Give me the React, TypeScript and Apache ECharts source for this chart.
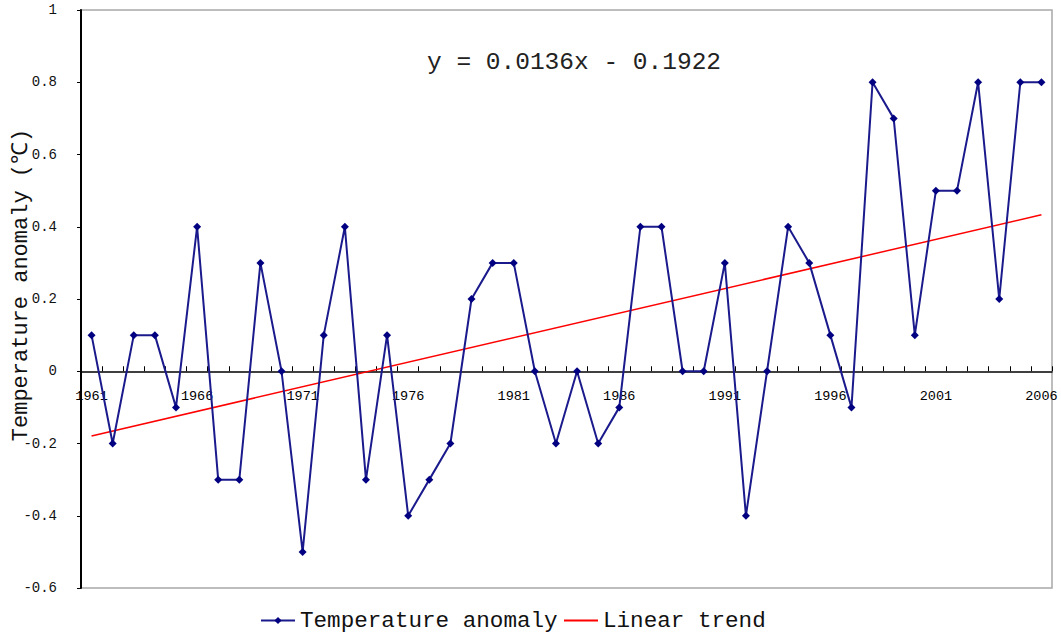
import React, { useEffect, useRef } from "react";
import * as echarts from "echarts";

const years: string[] = [
  "1961","1962","1963","1964","1965","1966","1967","1968","1969","1970",
  "1971","1972","1973","1974","1975","1976","1977","1978","1979","1980",
  "1981","1982","1983","1984","1985","1986","1987","1988","1989","1990",
  "1991","1992","1993","1994","1995","1996","1997","1998","1999","2000",
  "2001","2002","2003","2004","2005","2006",
];

const anomaly: number[] = [
  0.1, -0.2, 0.1, 0.1, -0.1, 0.4, -0.3, -0.3, 0.3, 0.0,
  -0.5, 0.1, 0.4, -0.3, 0.1, -0.4, -0.3, -0.2, 0.2, 0.3,
  0.3, 0.0, -0.2, 0.0, -0.2, -0.1, 0.4, 0.4, 0.0, 0.0,
  0.3, -0.4, 0.0, 0.4, 0.3, 0.1, -0.1, 0.8, 0.7, 0.1,
  0.5, 0.5, 0.8, 0.2, 0.8, 0.8,
];

// Linear trend line end points (first and last year)
const trendEnds: number[] = [-0.179, 0.433];

const yTicks = { min: -0.6, max: 1, interval: 0.2 };

const equationText = "y = 0.0136x - 0.1922";
const yAxisTitle = "Temperature anomaly (℃)";
const seriesNames = ["Temperature anomaly", "Linear trend"];

const FONT = "Liberation Mono";

export default function App() {
  const ref = useRef<HTMLDivElement>(null);

  useEffect(() => {
    if (!ref.current) return;
    const chart = echarts.init(ref.current, undefined, { renderer: "svg" });

    const trendData: (number | null)[] = years.map((_, i) =>
      i === 0 ? trendEnds[0] : i === years.length - 1 ? trendEnds[1] : null
    );

    const gridTop = 10;
    const gridBottom = 45;
    const plotH = 633 - gridTop - gridBottom;
    const zeroOffset = -plotH * (0 - yTicks.min) / (yTicks.max - yTicks.min);

    chart.setOption({
      animation: false,
      backgroundColor: "#ffffff",
      grid: {
        left: 81,
        right: 9,
        top: gridTop,
        bottom: gridBottom,
        show: true,
        borderColor: "#a8a8a8",
        borderWidth: 1.5,
        containLabel: false,
        outerBoundsMode: "none",
      },
      legend: [
        {
          left: 260,
          top: 609,
          padding: 0,
          itemWidth: 34,
          itemHeight: 9,
          textStyle: { fontFamily: FONT, fontSize: 22.6, color: "#111" },
          data: [{ name: seriesNames[0] }],
        },
        {
          left: 564,
          top: 609,
          padding: 0,
          itemWidth: 34,
          itemHeight: 2,
          icon: "rect",
          textStyle: { fontFamily: FONT, fontSize: 22.6, color: "#111" },
          data: [{ name: seriesNames[1] }],
        },
      ],
      graphic: [
        {
          type: "text",
          left: 427,
          top: 50,
          style: {
            text: equationText,
            font: `24.5px ${FONT}`,
            fill: "#222",
          },
        },
        {
          type: "text",
          x: 21,
          y: 285,
          rotation: Math.PI / 2,
          style: {
            text: yAxisTitle,
            font: `22px ${FONT}`,
            fill: "#111",
            textAlign: "center",
            textVerticalAlign: "middle",
          },
        },
      ],
      xAxis: {
        type: "category",
        data: years,
        boundaryGap: true,
        offset: zeroOffset,
        axisLine: { onZero: false, lineStyle: { color: "#000", width: 1.5 } },
        axisTick: {
          show: true,
          inside: true,
          length: 5,
          interval: 0,
          lineStyle: { color: "#000", width: 1 },
        },
        axisLabel: {
          interval: 4,
          margin: 18,
          color: "#000",
          fontFamily: FONT,
          fontSize: 13.5,
        },
        splitLine: { show: false },
      },
      yAxis: {
        type: "value",
        min: yTicks.min,
        max: yTicks.max,
        interval: yTicks.interval,
        axisLine: { show: true, lineStyle: { color: "#000", width: 2 } },
        axisTick: { show: true, length: 4, lineStyle: { color: "#000" } },
        axisLabel: {
          margin: 24,
          color: "#111",
          fontFamily: FONT,
          fontSize: 14,
          formatter: (v: number) => String(Number(v.toFixed(1))),
        },
        splitLine: { show: false },
      },
      series: [
        {
          name: seriesNames[0],
          type: "line",
          data: anomaly,
          symbol: "diamond",
          symbolSize: 8,
          lineStyle: { color: "#1a1a8c", width: 2 },
          itemStyle: { color: "#000080" },
          z: 3,
        },
        {
          name: seriesNames[1],
          type: "line",
          data: trendData,
          connectNulls: true,
          symbol: "none",
          lineStyle: { color: "#ff0000", width: 1.5 },
          itemStyle: { color: "#ff0000" },
          z: 2,
        },
      ],
    });

    return () => chart.dispose();
  }, []);

  return (
    <div
      ref={ref}
      style={{
        position: "fixed",
        left: 0,
        top: 0,
        width: 1061,
        height: 633,
        background: "#fff",
      }}
    />
  );
}
